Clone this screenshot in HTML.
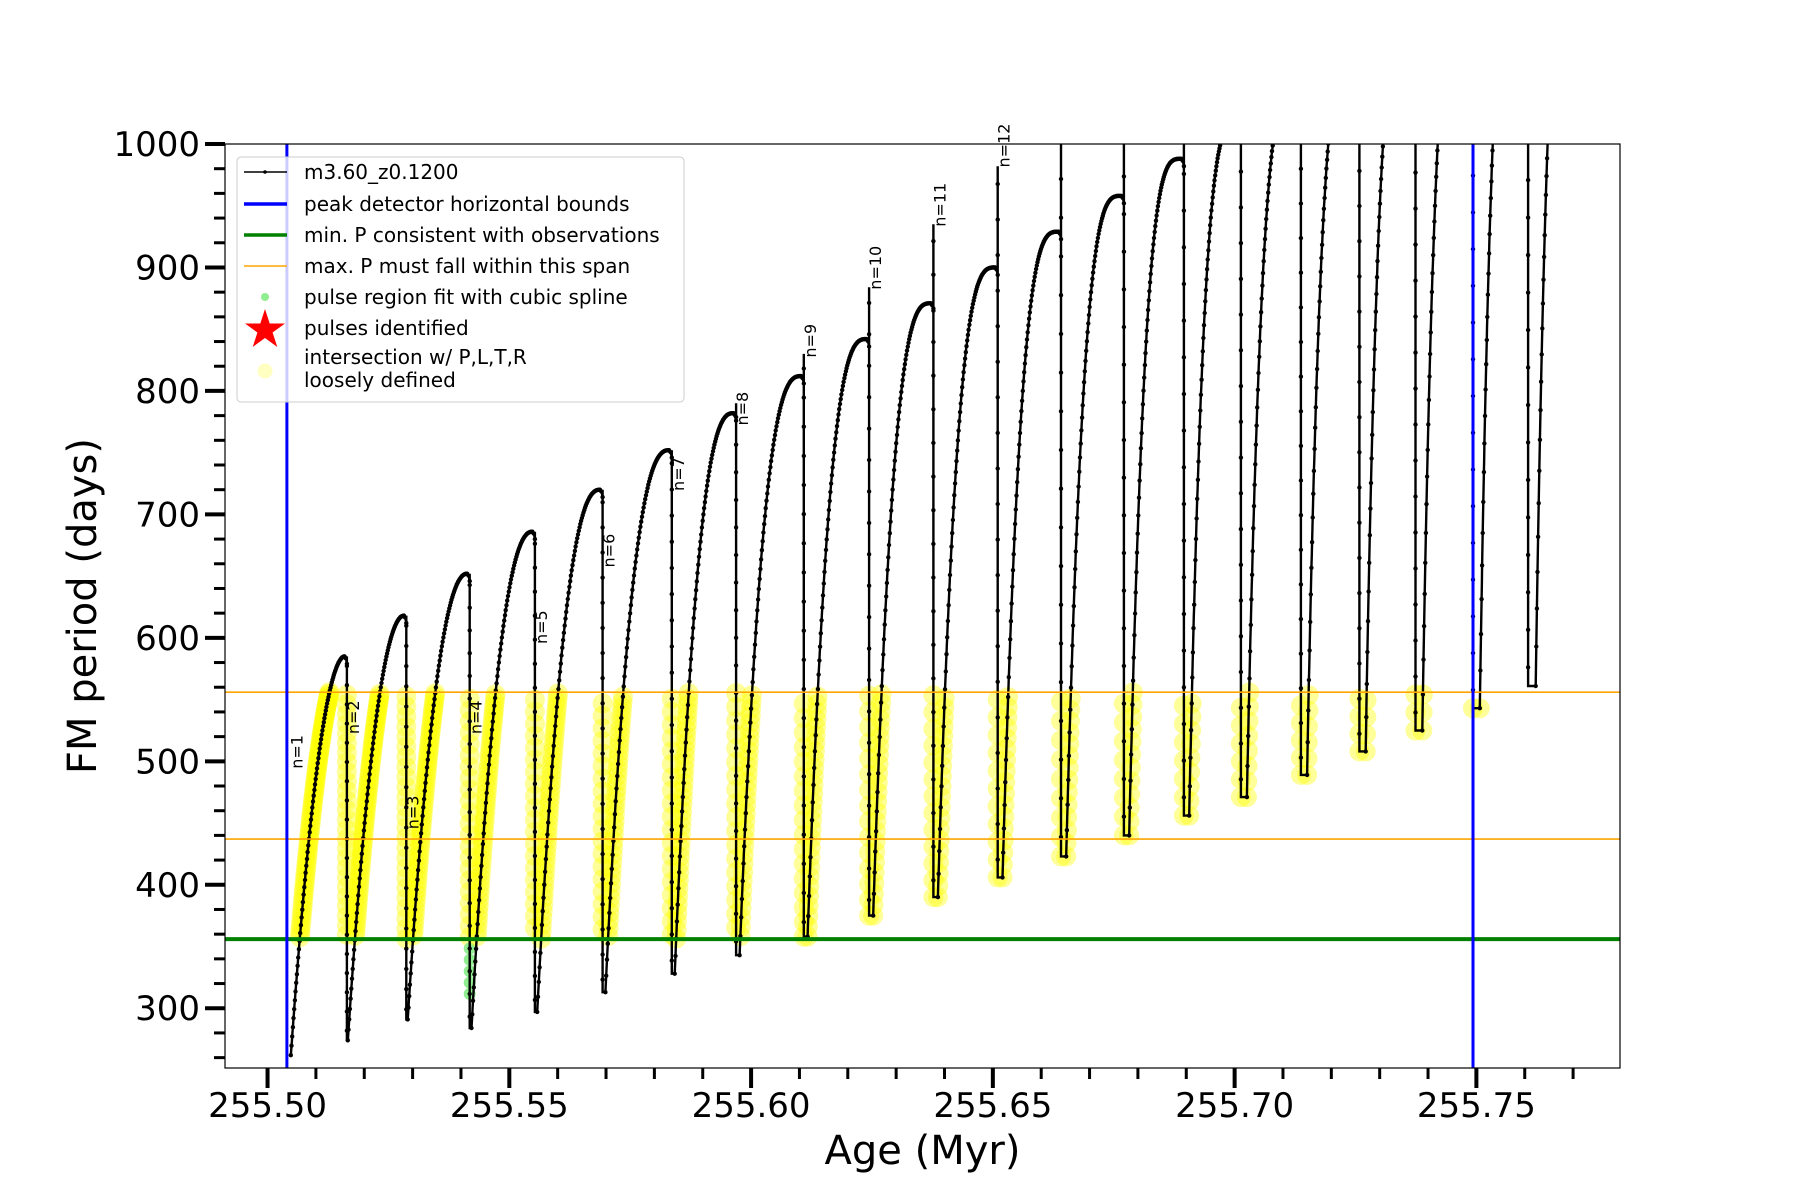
<!DOCTYPE html>
<html><head><meta charset="utf-8">
<style>
html,body{margin:0;padding:0;background:#fff;}
svg{display:block;font-family:"DejaVu Sans","Liberation Sans",sans-serif;}
</style></head>
<body>
<svg id="chart" width="1800" height="1200" viewBox="0 0 1800 1200" xmlns="http://www.w3.org/2000/svg">
<defs><clipPath id="plotclip"><rect x="225" y="144" width="1395" height="924"/></clipPath></defs>
<rect x="0" y="0" width="1800" height="1200" fill="#fff"/>
<g id="plot" clip-path="url(#plotclip)"></g>
<rect x="225" y="144" width="1395" height="924" fill="none" stroke="#000" stroke-width="1.2"/>
<g id="axes"></g>
<g id="legend"></g>
</svg>
<script>
// ---- data ----
const dropAges = [255.5047,255.5164,255.5287,255.5418,255.5553,255.5693,255.5836,255.5969,255.6109,255.6244,255.6377,255.6510,255.6641,255.6771,255.6895,255.7013,255.7137,255.7258,255.7374,255.7493,255.7607];
const cycleMins = [262,274,291,284,297,313,328,343,358,375,390,406,423,440,456,471,489,508,525,543,561];
const cyclePeaks = [585,618,652,686,720,752,782,812,842,871,900,929,958,988,1018,1048,1078,1108,1138,1168,1198];
const spikeTops = [0,0,0,0,0,0,0,790,830,884,935,982,1050,1050,1050,1050,1050,1050,1050,1050,1050];
const pulseLabels = ["n=1","n=2","n=3","n=4","n=5","n=6","n=7","n=8","n=9","n=10","n=11","n=12"];
const labelY = [494,522,445,522,595,657,719,772,827,882,933,981];
const xTicks = [255.50,255.55,255.60,255.65,255.70,255.75];
const yTicks = [300,400,500,600,700,800,900,1000];
const peakBounds = [255.5040,255.7493];
const minP = 356;
const maxPSpan = [437,556];
const xDomain = [255.4912,255.7797];
const yDomain = [251.6,1000];

const L=225,R=1620,T=144,B=1068;
const X=v=>L+(v-xDomain[0])/(xDomain[1]-xDomain[0])*(R-L);
const Y=v=>B-(v-yDomain[0])/(yDomain[1]-yDomain[0])*(B-T);
const NS="http://www.w3.org/2000/svg";
function mk(tag,attrs,parent){const e=document.createElementNS(NS,tag);for(const k in attrs)e.setAttribute(k,attrs[k]);parent.appendChild(e);return e;}
const plot=document.getElementById('plot'), axes=document.getElementById('axes'), leg=document.getElementById('legend');

// build track points
const pts=[]; // [age, P, cycleIndex, isDrop]
const n=dropAges.length-1;
for(let i=0;i<dropAges.length;i++){
  const t0=dropAges[i];
  const t1=i<n?dropAges[i+1]:t0+0.012;
  const w=t1-t0;
  if(i>0){
    const top=Math.max(spikeTops[i],cyclePeaks[i-1]);
    for(let k=0;k<=40;k++){pts.push([t0,top+(cycleMins[i]-top)*k/40,i,true]);}
  }
  const g=0.01+0.12*i/n, kk=1.9+2.2*i/n;
  const ts=t0+g*w, te=t1-0.04*w;
  for(let k=0;k<=160;k++){
    const u=k/160;
    const age=ts+(te-ts)*u;
    pts.push([age,cycleMins[i]+(cyclePeaks[i]-cycleMins[i])*(1-Math.pow(1-u,kk)),i,false]);
  }
  if(i<n){for(let k=1;k<=4;k++){pts.push([te+(t1-te)*k/4,cyclePeaks[i]-6*k*k/16,i,false]);}}
}
// yellow / green markers
pts.forEach(q=>{
  if(q[1]>=minP && q[1]<=maxPSpan[1]){
    const c=mk('circle',{cx:X(q[0]).toFixed(1),cy:Y(q[1]).toFixed(1),r:10,fill:'#ffff00','fill-opacity':0.4},plot);
    
    
  } else if(q[2]===3 && q[3] && q[1]<minP && q[1]>=303){
    const c=mk('circle',{cx:X(q[0]).toFixed(1),cy:Y(q[1]).toFixed(1),r:6,fill:'#90ee90'},plot);
    
    
  }
});
// black line
const d=pts.map((q,j)=>(j?'L':'M')+X(q[0]).toFixed(1)+' '+Y(q[1]).toFixed(1)).join('');
const line=mk('path',{d:d,fill:'none',stroke:'#000','stroke-width':2.4},plot);


pts.forEach((q,j)=>{ if(j%2===0){const c=mk('circle',{cx:X(q[0]).toFixed(1),cy:Y(q[1]).toFixed(1),r:2.2,fill:'#000'},plot);
  
  }});
// reference lines
const gl=mk('line',{x1:L,x2:R,y1:Y(minP),y2:Y(minP),stroke:'#008000','stroke-width':4},plot);


maxPSpan.forEach(v=>{const o=mk('line',{x1:L,x2:R,y1:Y(v),y2:Y(v),stroke:'#ffa500','stroke-width':1.6},plot);
  
  });
peakBounds.forEach(v=>{const b=mk('line',{x1:X(v),x2:X(v),y1:T,y2:B,stroke:'#0000ff','stroke-width':3},plot);
  
  });
// pulse labels
pulseLabels.forEach((s,i)=>{
  const x=X(dropAges[i])+12, y=Y(labelY[i]);
  const t=mk('text',{x:x,y:y,transform:`rotate(-90 ${x} ${y})`,'font-size':16,fill:'#000'},axes);
  t.textContent=s;
  
  
});
// x ticks
for(let m=255.50;m<=255.7751;m+=0.01){
  const major=xTicks.some(v=>Math.abs(v-m)<1e-6);
  mk('line',{x1:X(m),x2:X(m),y1:B,y2:B+(major?20:11),stroke:'#000','stroke-width':major?4:3},axes);
}
xTicks.forEach(v=>{const t=mk('text',{x:X(v),y:B+49,'text-anchor':'middle','font-size':34},axes);t.textContent=v.toFixed(2);
  
  });
// y ticks
for(let m=260;m<=1000;m+=20){
  const major=yTicks.includes(m);
  mk('line',{x1:L,x2:L-(major?20:11),y1:Y(m),y2:Y(m),stroke:'#000','stroke-width':major?4:3},axes);
}
yTicks.forEach(v=>{const t=mk('text',{x:L-25,y:Y(v)+12,'text-anchor':'end','font-size':34},axes);t.textContent=v;
  
  });
const xl=mk('text',{x:(L+R)/2,y:1164,'text-anchor':'middle','font-size':40},axes);xl.textContent='Age (Myr)';


const yl=mk('text',{x:96,y:(T+B)/2,'text-anchor':'middle','font-size':40,transform:`rotate(-90 96 ${(T+B)/2})`},axes);yl.textContent='FM period (days)';


// legend
mk('rect',{x:237,y:157,width:447,height:245,rx:4,fill:'#fff','fill-opacity':0.8,stroke:'#ccc','stroke-width':1},leg);
const rows=[172,204,235,266,297,328];
const texts=['m3.60_z0.1200','peak detector horizontal bounds','min. P consistent with observations','max. P must fall within this span','pulse region fit with cubic spline','pulses identified'];
texts.forEach((s,i)=>{const t=mk('text',{x:304,y:rows[i]+7,'font-size':20},leg);t.textContent=s;
  
  });
mk('line',{x1:244,x2:287,y1:rows[0],y2:rows[0],stroke:'#000','stroke-width':1.5},leg);
mk('circle',{cx:265,cy:rows[0],r:1.8,fill:'#000'},leg);
mk('line',{x1:244,x2:287,y1:rows[1],y2:rows[1],stroke:'#0000ff','stroke-width':3.5},leg);
mk('line',{x1:244,x2:287,y1:rows[2],y2:rows[2],stroke:'#008000','stroke-width':3.5},leg);
mk('line',{x1:244,x2:287,y1:rows[3],y2:rows[3],stroke:'#ffa500','stroke-width':1.6},leg);
mk('circle',{cx:265,cy:rows[4],r:4,fill:'#90ee90'},leg);
mk('polygon',{points:(()=>{let a=[];for(let k=0;k<10;k++){const r=k%2?8:21,an=-Math.PI/2+k*Math.PI/5;a.push((265+r*Math.cos(an)).toFixed(1)+','+(rows[5]+2+r*Math.sin(an)).toFixed(1));}return a.join(' ');})(),fill:'#ff0000'},leg);
mk('circle',{cx:265,cy:371,r:7.5,fill:'#ffff99','fill-opacity':0.6},leg);
const t1=mk('text',{x:304,y:364,'font-size':20},leg);t1.textContent='intersection w/ P,L,T,R';


const t2=mk('text',{x:304,y:387,'font-size':20},leg);t2.textContent='loosely defined';


</script>
</body></html>
